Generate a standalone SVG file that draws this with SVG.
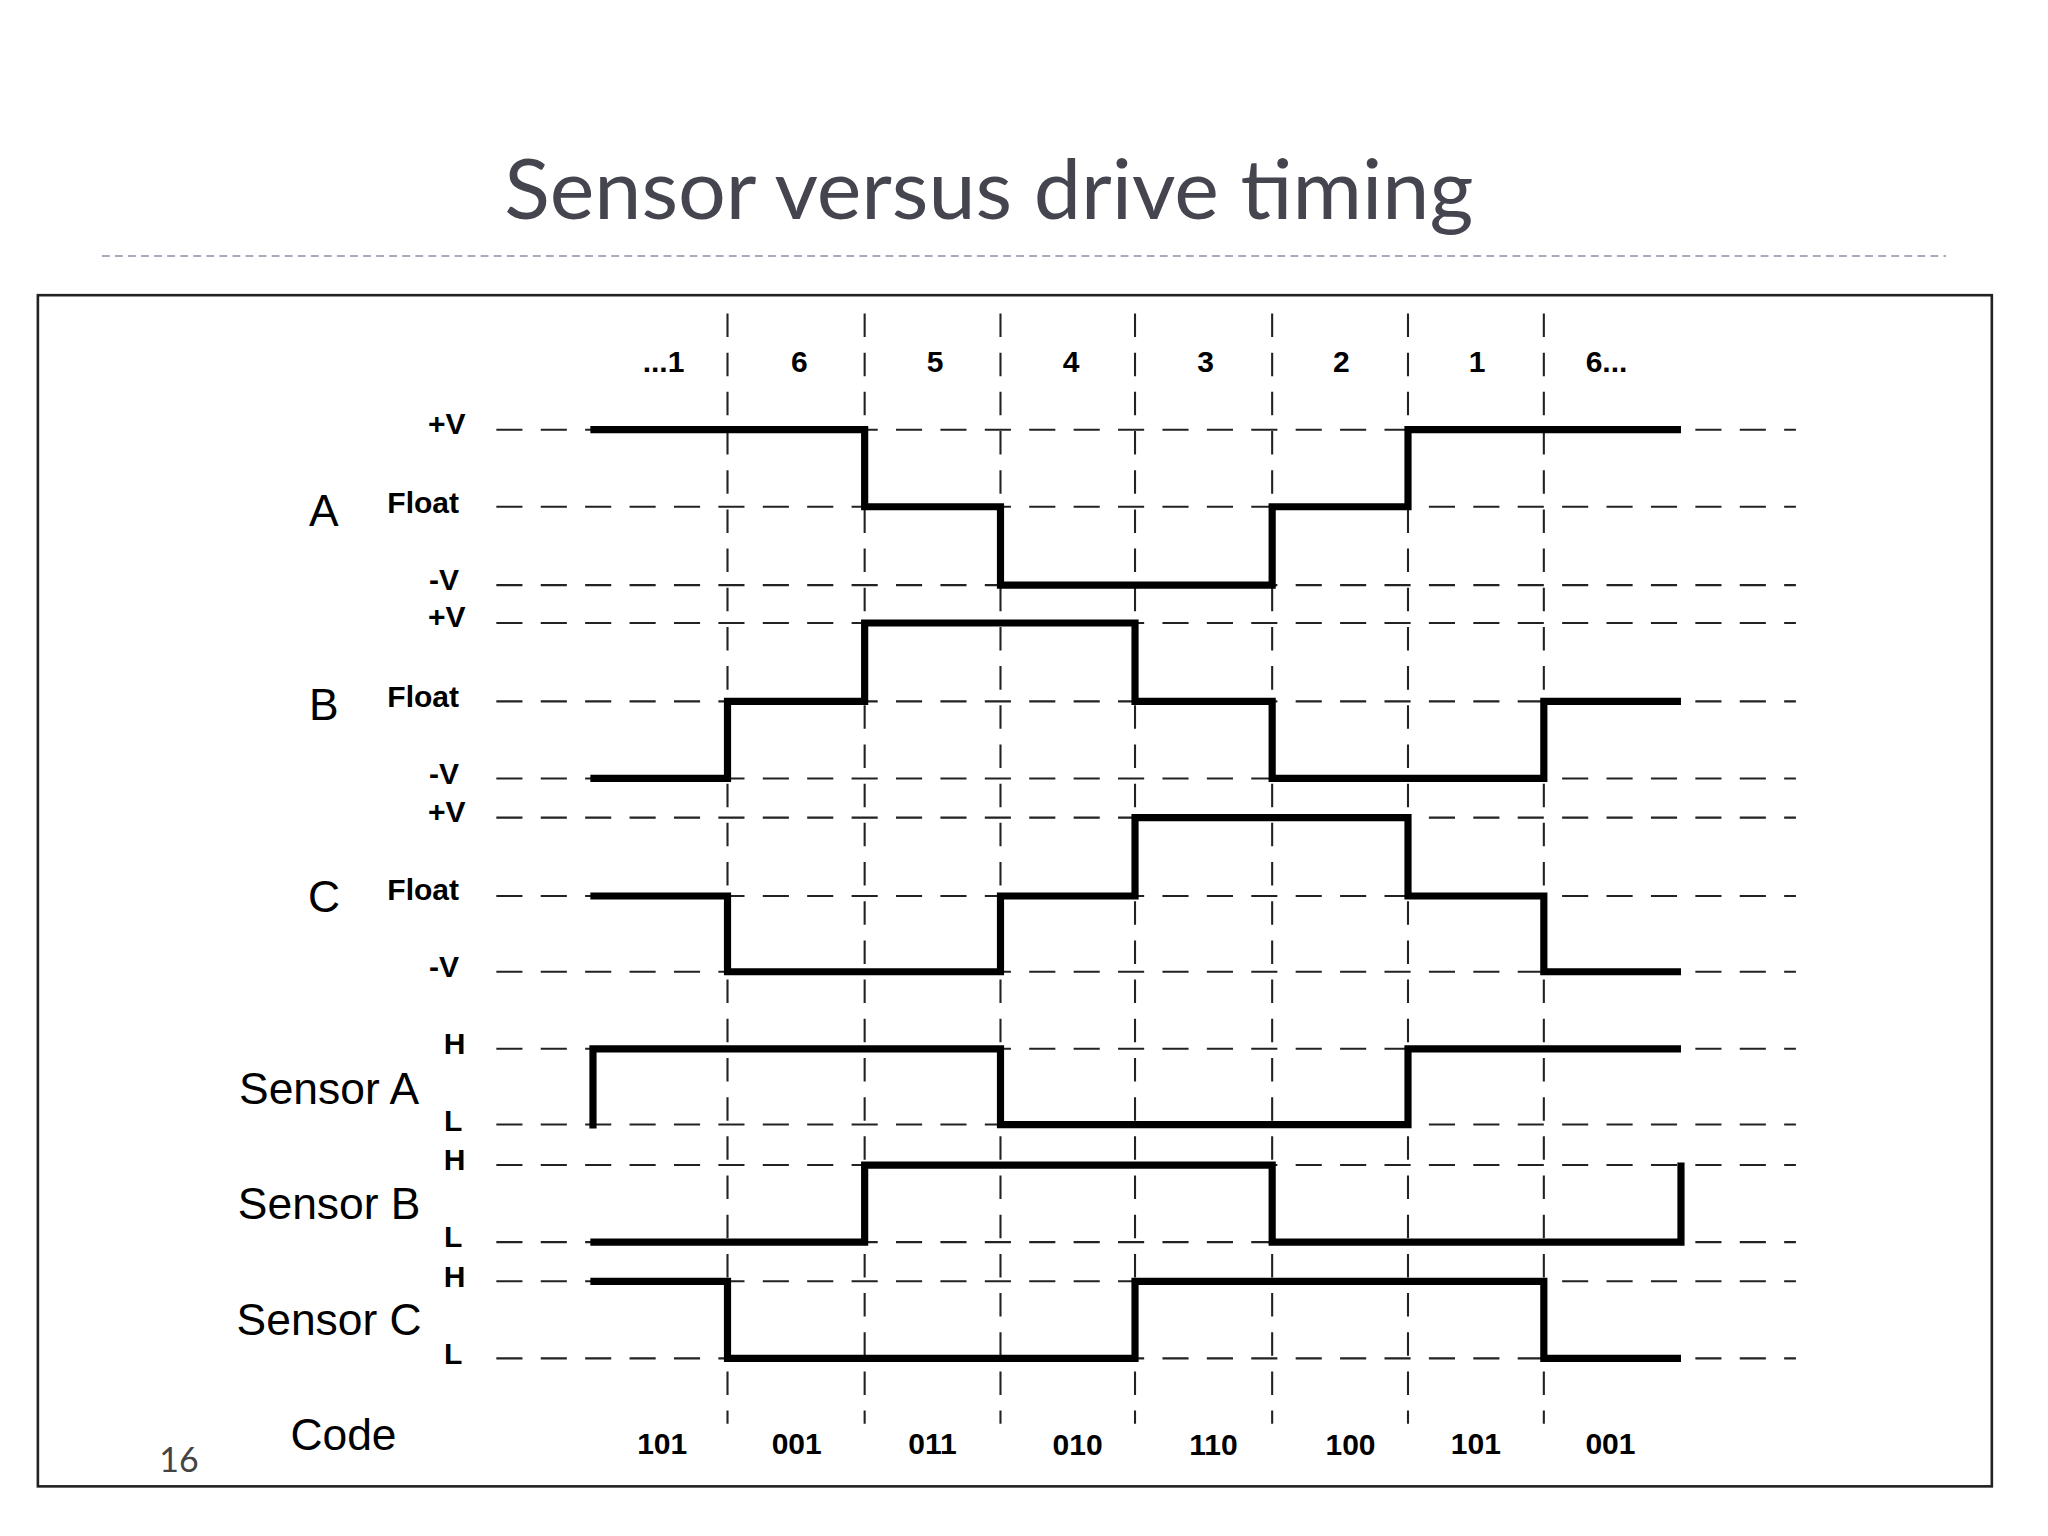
<svg xmlns="http://www.w3.org/2000/svg" width="2048" height="1536" viewBox="0 0 2048 1536">
<style>
.g{stroke:#222;stroke-width:1.6;stroke-dasharray:20 14;fill:none}
.v{stroke:#222;stroke-width:1.6;stroke-dasharray:18 12;fill:none}
.w{stroke:#000;stroke-width:5.5;fill:none;stroke-linejoin:miter}
.b{font-family:"Liberation Sans",Arial,sans-serif;font-weight:bold;font-size:23px;fill:#000;text-anchor:middle}
.n{font-family:"Liberation Sans",Arial,sans-serif;font-size:34px;fill:#000;text-anchor:middle}
</style>
<rect width="2048" height="1536" fill="#fff"/>
<g transform="scale(1.30612)">
<text x="757" y="168" font-family="Lato,'Open Sans',sans-serif" font-size="64" fill="#45454f" text-anchor="middle" textLength="742" lengthAdjust="spacingAndGlyphs">Sensor versus drive timing</text>
<line x1="78" y1="196" x2="1490" y2="196" stroke="#aab" stroke-width="1.5" stroke-dasharray="6 4"/>
<rect x="29" y="226" width="1496" height="912" fill="none" stroke="#222" stroke-width="2"/>
<g id="grid">
<path class="g" d="M380 329H1375M380 388H1375M380 448H1375M380 477H1375M380 537H1375M380 596H1375M380 626H1375M380 686H1375M380 744H1375M380 803H1375M380 861H1375M380 892H1375M380 951H1375M380 981H1375M380 1040H1375"/>
<path class="v" d="M557 240V1090M662 240V1090M766 240V1090M869 240V1090M974 240V1090M1078 240V1090M1182 240V1090"/>
</g>
<g id="connectors">
<path class="w" d="M452 329H662V388H766V448H974V388H1078V329H1287"/>
<path class="w" d="M452 596H557V537H662V477H869V537H974V596H1182V537H1287"/>
<path class="w" d="M452 686H557V744H766V686H869V626H1078V686H1182V744H1287"/>
<path class="w" d="M454 864V803H766V861H1078V803H1287"/>
<path class="w" d="M452 951H662V892H974V951H1287V890"/>
<path class="w" d="M452 981H557V1040H869V981H1182V1040H1287"/>
</g>
<g id="labels">
<text class="b" x="508" y="285">...1</text><text class="b" x="612" y="285">6</text><text class="b" x="716" y="285">5</text><text class="b" x="820" y="285">4</text><text class="b" x="923" y="285">3</text><text class="b" x="1027" y="285">2</text><text class="b" x="1131" y="285">1</text><text class="b" x="1230" y="285">6...</text>
<text class="n" x="248" y="403">A</text><text class="n" x="248" y="551">B</text><text class="n" x="248" y="698">C</text>
<text class="b" x="342" y="332">+V</text><text class="b" x="324" y="393">Float</text><text class="b" x="340" y="452">-V</text>
<text class="b" x="342" y="480">+V</text><text class="b" x="324" y="541">Float</text><text class="b" x="340" y="600">-V</text>
<text class="b" x="342" y="629">+V</text><text class="b" x="324" y="689">Float</text><text class="b" x="340" y="748">-V</text>
<text class="n" x="252" y="845">Sensor A</text><text class="n" x="252" y="933">Sensor B</text><text class="n" x="252" y="1022">Sensor C</text>
<text class="b" x="348" y="807">H</text><text class="b" x="347" y="866">L</text>
<text class="b" x="348" y="896">H</text><text class="b" x="347" y="955">L</text>
<text class="b" x="348" y="985">H</text><text class="b" x="347" y="1044">L</text>
<text class="n" x="263" y="1110">Code</text>
<text class="b" x="507" y="1113">101</text><text class="b" x="610" y="1113">001</text><text class="b" x="714" y="1113">011</text><text class="b" x="825" y="1114">010</text><text class="b" x="929" y="1114">110</text><text class="b" x="1034" y="1114">100</text><text class="b" x="1130" y="1113">101</text><text class="b" x="1233" y="1113">001</text>
<text x="137" y="1127" font-family="Lato,sans-serif" font-size="26" fill="#444" text-anchor="middle">16</text>
</g>
</g>
</svg>
